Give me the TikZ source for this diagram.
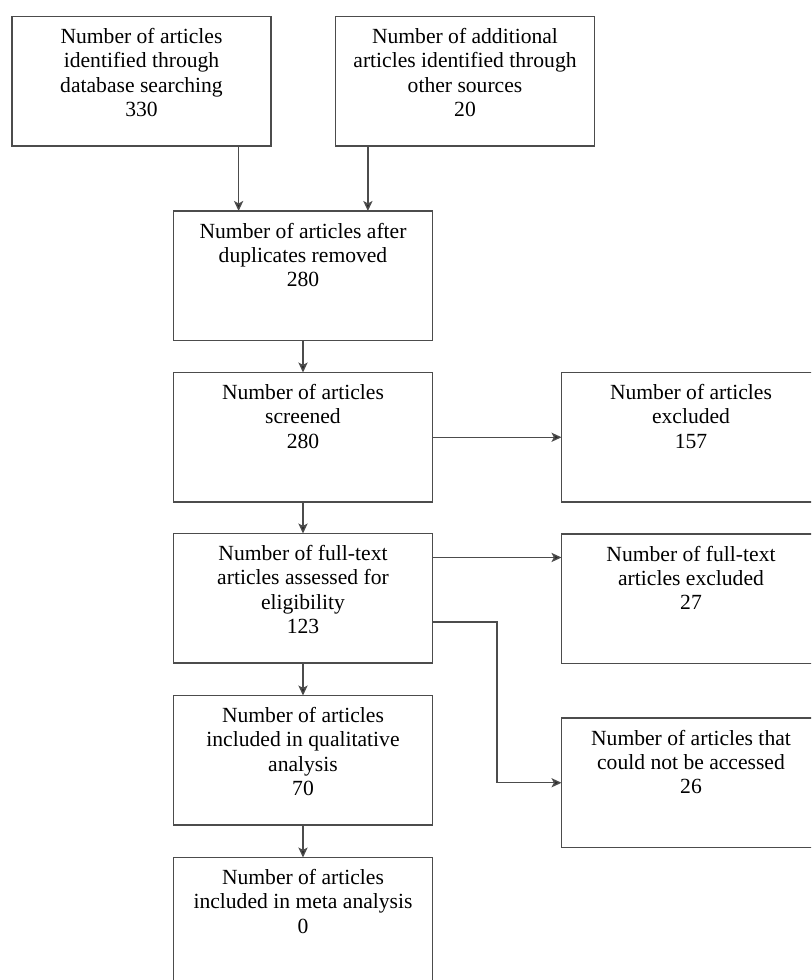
\documentclass[tikz,border=0pt]{standalone}
\usepackage{fontspec}
\setmainfont{Liberation Serif}
\usetikzlibrary{arrows.meta}
\begin{document}
\begin{tikzpicture}[x=0.5pt,y=-0.5pt,
 box/.style={draw=black!70, line width=0.75pt, rectangle, anchor=north west, minimum width=129.5pt, minimum height=64.75pt, inner sep=0pt, outer sep=0pt},
 txt/.style={anchor=base, inner sep=0pt, outer sep=0pt, font=\fontsize{10.8}{12.2}\selectfont},
 arr/.style={draw=black!70, line width=0.7pt, -{Stealth[length=5pt,width=4.6pt,inset=1.2pt,fill=black!85]}}]
\useasboundingbox (0,0) rectangle (811,980);
\clip (0,0) rectangle (811,980);
\newcommand{\mtext}[1]{\begin{minipage}[t]{140pt}\centering #1\end{minipage}}
% boxes
\node[box] (b1) at (12,16.5) {};
\node[box] (b2) at (335.5,16.5) {};
\node[box] (b3) at (173.5,211) {};
\node[box] (b4) at (173.5,372.5) {};
\node[box] (b5) at (561.5,372.5) {};
\node[box] (b6) at (173.5,533.5) {};
\node[box] (b7) at (561.5,534) {};
\node[box] (b8) at (173.5,695.5) {};
\node[box] (b9) at (561.5,718) {};
\node[box, minimum height=80pt] (b10) at (173.5,857.5) {};
% texts
\node[txt] (t1) at ([yshift=-13.5pt]b1.north) {\mtext{Number of articles\\identified through\\database searching\\330}};
\node[txt] (t2) at ([yshift=-13.5pt]b2.north) {\mtext{Number of additional\\articles identified through\\other sources\\20}};
\node[txt] (t3) at ([yshift=-13.5pt]b3.north) {\mtext{Number of articles after\\duplicates removed\\280}};
\node[txt] (t4) at ([yshift=-13.5pt]b4.north) {\mtext{Number of articles\\screened\\280}};
\node[txt] (t5) at ([yshift=-13.5pt]b5.north) {\mtext{Number of articles\\excluded\\157}};
\node[txt] (t6) at ([yshift=-13.5pt]b6.north) {\mtext{Number of full-text\\articles assessed for\\eligibility\\123}};
\node[txt] (t7) at ([yshift=-13.5pt]b7.north) {\mtext{Number of full-text\\articles excluded\\27}};
\node[txt] (t8) at ([yshift=-13.5pt]b8.north) {\mtext{Number of articles\\included in qualitative\\analysis\\70}};
\node[txt] (t9) at ([yshift=-13.5pt]b9.north) {\mtext{Number of articles that\\could not be accessed\\26}};
\node[txt] (t10) at ([yshift=-13.5pt]b10.north) {\mtext{Number of articles\\included in meta analysis\\0}};
% connectors
\draw[arr] ([xshift=-16.2pt]b1.south east) -- ([xshift=-16.2pt]b1.south east |- b3.north);
\draw[arr] ([xshift=16.2pt]b2.south west) -- ([xshift=16.2pt]b2.south west |- b3.north);
\draw[arr] (b3.south) -- (b4.north);
\draw[arr] (b4.east) -- (b4.east -| b5.west);
\draw[arr] (b4.south) -- (b6.north);
\draw[arr] ([yshift=-12pt]b6.north east) -- ([yshift=-12pt]b6.north east -| b7.west);
\draw[arr] ([yshift=-44.2pt]b6.north east) -- ++(32.3pt,0) |- (b9.west);
\draw[arr] (b6.south) -- (b8.north);
\draw[arr] (b8.south) -- (b10.north);
\end{tikzpicture}
\end{document}
